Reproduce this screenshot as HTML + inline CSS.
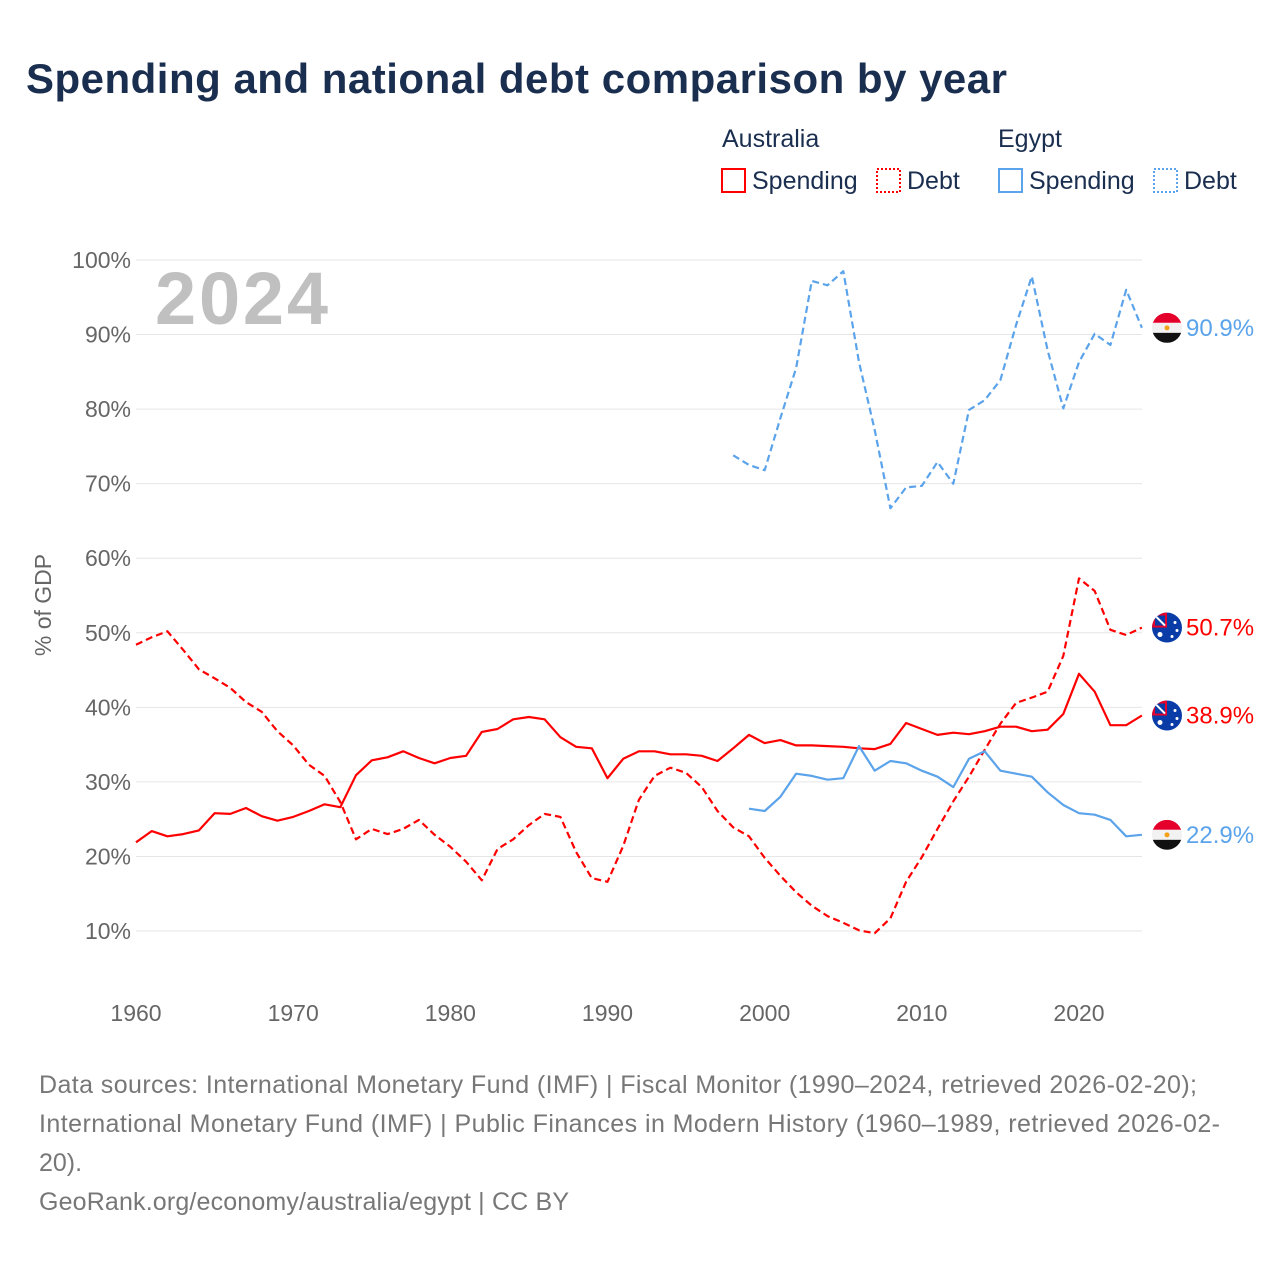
<!DOCTYPE html>
<html><head><meta charset="utf-8">
<style>
body{margin:0;background:#fff;font-family:"Liberation Sans",sans-serif;}
#wrap{position:relative;width:1280px;height:1280px;overflow:hidden;}
</style></head>
<body>
<div id="wrap">
<svg id="chart" width="1280" height="1280" xmlns="http://www.w3.org/2000/svg" font-family="Liberation Sans, sans-serif">
<text x="26" y="93" font-size="42" font-weight="bold" fill="#1a2e4f" textLength="981">Spending and national debt comparison by year</text>
<g font-size="25" fill="#1a2e4f">
<text x="722" y="147">Australia</text>
<text x="998" y="147">Egypt</text>
<g><rect x="722" y="169" width="23" height="23" fill="none" stroke="#ff0000" stroke-width="2"/><text x="752" y="189">Spending</text></g>
<g><rect x="877" y="169" width="23" height="23" fill="none" stroke="#ff0000" stroke-width="2" stroke-dasharray="2,2"/><text x="907" y="189">Debt</text></g>
<g><rect x="999" y="169" width="23" height="23" fill="none" stroke="#5ba3ea" stroke-width="2"/><text x="1029" y="189">Spending</text></g>
<g><rect x="1154" y="169" width="23" height="23" fill="none" stroke="#5ba3ea" stroke-width="2" stroke-dasharray="2,2"/><text x="1184" y="189">Debt</text></g>
</g>
<text x="155" y="324" font-size="74" font-weight="bold" fill="#c0c0c0" textLength="173">2024</text>
<text transform="translate(51,605) rotate(-90)" text-anchor="middle" font-size="23" fill="#666">% of GDP</text>
<g id="grid"></g><g id="series"></g><g id="ends"></g>
<g font-size="25" fill="#777">
<text x="39" y="1093" textLength="1158">Data sources: International Monetary Fund (IMF) | Fiscal Monitor (1990–2024, retrieved 2026-02-20);</text>
<text x="39" y="1132" textLength="1181">International Monetary Fund (IMF) | Public Finances in Modern History (1960–1989, retrieved 2026-02-</text>
<text x="39" y="1171">20).</text>
<text x="39" y="1210" textLength="530">GeoRank.org/economy/australia/egypt | CC BY</text>
</g>
</svg>
</div>
<script>
const ausYears=[];for(let y=1960;y<=2024;y++)ausYears.push(y);
const ausSpending=[21.9,23.4,22.7,23.0,23.5,25.8,25.7,26.5,25.4,24.8,25.3,26.1,27.0,26.6,30.9,32.9,33.3,34.1,33.2,32.5,33.2,33.5,36.7,37.1,38.4,38.7,38.4,36.0,34.7,34.5,30.5,33.1,34.1,34.1,33.7,33.7,33.5,32.8,34.5,36.3,35.2,35.6,34.9,34.9,34.8,34.7,34.5,34.4,35.1,37.9,37.1,36.3,36.6,36.4,36.8,37.4,37.4,36.8,37.0,39.1,44.5,42.1,37.6,37.6,38.9];
const ausDebt=[48.4,49.4,50.2,47.7,45.1,43.9,42.6,40.7,39.4,36.8,34.9,32.3,30.8,27.3,22.3,23.7,23.0,23.7,24.9,22.9,21.3,19.3,16.8,21.0,22.3,24.2,25.7,25.3,20.6,17.1,16.6,21.4,27.6,30.8,31.9,31.2,29.3,26.1,23.9,22.7,19.8,17.4,15.2,13.4,12.0,11.1,10.1,9.7,11.7,16.6,19.9,23.7,27.4,30.7,34.3,37.8,40.6,41.3,42.1,46.9,57.3,55.6,50.4,49.7,50.7];
const egyDebtYears=[];for(let y=1998;y<=2024;y++)egyDebtYears.push(y);
const egyDebt=[73.8,72.5,71.8,78.8,85.5,97.2,96.6,98.5,86.3,77.2,66.7,69.5,69.7,72.9,70.0,79.9,81.2,83.9,91.3,97.8,87.9,80.1,86.3,90.1,88.6,96.0,90.9];
const egySpendYears=[];for(let y=1999;y<=2024;y++)egySpendYears.push(y);
const egySpending=[26.4,26.1,28.0,31.1,30.8,30.3,30.5,34.8,31.5,32.8,32.5,31.5,30.7,29.3,33.1,34.1,31.5,31.1,30.7,28.6,26.9,25.8,25.6,24.9,22.7,22.9];
const yTicks=[10,20,30,40,50,60,70,80,90,100];
const xTicks=[1960,1970,1980,1990,2000,2010,2020];

const NS="http://www.w3.org/2000/svg";
const X=y=>136+(y-1960)*(1079-136)/60;
const Y=v=>931-(v-10)*(931-260)/90;
function mk(tag,attrs,parent){const e=document.createElementNS(NS,tag);for(const k in attrs)e.setAttribute(k,attrs[k]);parent.appendChild(e);return e;}
const grid=document.getElementById('grid');
yTicks.forEach(t=>{
 const l=mk('line',{x1:136,x2:1142,y1:Y(t),y2:Y(t),stroke:'#e6e6e6','stroke-width':1},grid);
 
 
 const tx=mk('text',{x:131,y:Y(t)+8,'text-anchor':'end','font-size':23,fill:'#666'},grid);
 tx.textContent=t+'%';
 
 
});
xTicks.forEach(t=>{
 const tx=mk('text',{x:X(t),y:1021,'text-anchor':'middle','font-size':23,fill:'#666'},grid);
 tx.textContent=t;
 
 
});
const ser=document.getElementById('series');
function line(years,vals,color,dash,name){
 const d=years.map((y,i)=>(i?'L':'M')+X(y).toFixed(1)+','+Y(vals[i]).toFixed(1)).join('');
 const p=mk('path',{d:d,fill:'none',stroke:color,'stroke-width':2.2,'stroke-dasharray':dash?'7,4':'none','stroke-linejoin':'round'},ser);
 
 
}
line(ausYears,ausDebt,'#ff0000',true,'line-australia-debt');
line(ausYears,ausSpending,'#ff0000',false,'line-australia-spending');
line(egyDebtYears,egyDebt,'#5ba3ea',true,'line-egypt-debt');
line(egySpendYears,egySpending,'#5ba3ea',false,'line-egypt-spending');
const ends=document.getElementById('ends');
function flag(v,kind,color,name){
 const cy=Y(v),cx=1167,r=15;
 const g=mk('g',{},ends);
 
 
 const cid='c'+name;
 const cp=mk('clipPath',{id:cid},g);mk('circle',{cx:cx,cy:cy,r:r},cp);
 const fg=mk('g',{'clip-path':'url(#'+cid+')'},g);
 if(kind==='egy'){
  mk('rect',{x:cx-r,y:cy-r,width:2*r,height:10,fill:'#e4002b'},fg);
  mk('rect',{x:cx-r,y:cy-5,width:2*r,height:10,fill:'#f2f2f2'},fg);
  mk('rect',{x:cx-r,y:cy+5,width:2*r,height:10,fill:'#111'},fg);
  mk('circle',{cx:cx,cy:cy,r:2.5,fill:'#f4a21c'},fg);
 }else{
  mk('rect',{x:cx-r,y:cy-r,width:2*r,height:2*r,fill:'#0a3ca8'},fg);
  mk('rect',{x:cx-r,y:cy-r,width:r,height:r,fill:'#e4002b'},fg);
  mk('rect',{x:cx-r+3,y:cy-r+3,width:r-5,height:r-5,fill:'#0a3ca8'},fg);
  mk('line',{x1:cx-r+3,y1:cy-r+3,x2:cx-2,y2:cy-2,stroke:'#fff','stroke-width':2},fg);
  mk('circle',{cx:cx-7,cy:cy+7,r:2.5,fill:'#fff'},fg);
  mk('circle',{cx:cx+8,cy:cy-5,r:1.5,fill:'#fff'},fg);
  mk('circle',{cx:cx+5,cy:cy+9,r:1.5,fill:'#fff'},fg);
  mk('circle',{cx:cx+10,cy:cy+3,r:1.5,fill:'#fff'},fg);
 }
 const t=mk('text',{x:1186,y:cy+8,'font-size':24,fill:color},ends);
 t.textContent=v.toFixed(1)+'%';
 
 
}
flag(egyDebt[egyDebt.length-1],'egy','#5ba3ea','end-egypt-debt');
flag(ausDebt[ausDebt.length-1],'aus','#ff0000','end-australia-debt');
flag(ausSpending[ausSpending.length-1],'aus','#ff0000','end-australia-spending');
flag(egySpending[egySpending.length-1],'egy','#5ba3ea','end-egypt-spending');
</script>
</body></html>
